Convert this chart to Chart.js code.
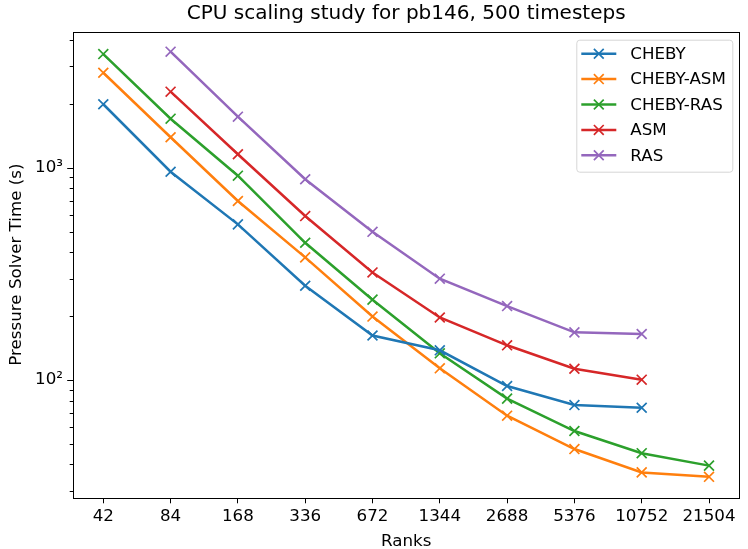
<!DOCTYPE html>
<html>
<head>
<meta charset="utf-8">
<script src="https://cdn.jsdelivr.net/npm/chart.js@4.4.1/dist/chart.umd.min.js"></script>
<style>
    body { margin: 0; background: #fff; }
    #wrap { width: 748px; height: 549px; }
</style>
</head>
<body>
<div id="wrap"><canvas id="scaling-chart" width="748" height="549"></canvas></div>
<script>
// ranks on the x axis (evenly spaced, doubling)
const rankLabels = ["42", "84", "168", "336", "672", "1344", "2688", "5376", "10752", "21504"];

const seriesNames = ["CHEBY", "CHEBY-ASM", "CHEBY-RAS", "ASM", "RAS"];
const seriesColors = ["#1f77b4", "#ff7f0e", "#2ca02c", "#d62728", "#9467bd"];

// pressure solver time (s), null where a run is missing
const chebyTimes    = [1990, 957, 541, 278, 162, 138, 93.7, 76.2, 74.0, null];
const chebyAsmTimes = [2800, 1391, 697, 378, 199, 113.5, 67.9, 47.3, 36.7, 35.0];
const chebyRasTimes = [3430, 1701, 917, 443, 239, 133.6, 81.7, 57.5, 45.2, 39.5];
const asmTimes      = [null, 2280, 1157, 592, 321, 197, 145.7, 113, 100.3, null];
const rasTimes      = [null, 3519, 1739, 882, 499, 300, 223, 167.7, 164.7, null];

const allSeries = [chebyTimes, chebyAsmTimes, chebyRasTimes, asmTimes, rasTimes];

const yMin = 27.96;
const yMax = 4371;
const yLabelled = { 100: "10\u00b2", 1000: "10\u00b3" };

const fontFamily = "'DejaVu Sans', sans-serif";
const labelSize = 16.7;

function toPoints(values) {
    const pts = [];
    values.forEach((v, i) => {
        if (v !== null) {
            pts.push({ x: i, y: v });
        }
    });
    return pts;
}

const datasets = allSeries.map((values, i) => ({
    label: seriesNames[i],
    data: toPoints(values),
    borderColor: seriesColors[i],
    backgroundColor: seriesColors[i],
    borderWidth: 2.5,
    pointStyle: 'crossRot',
    pointRadius: 7,
    pointHoverRadius: 7,
    pointBorderWidth: 1.7,
    tension: 0
}));

// y minor/major ticks, frame and the legend box
const decorPlugin = {
    id: 'decor',
    afterLayout(chart) {
        // center the title over the plot area, not the whole canvas
        if (chart.titleBlock) {
            chart.titleBlock.left = chart.chartArea.left;
            chart.titleBlock.right = chart.chartArea.right;
        }
    },
    afterDraw(chart) {
        const ctx = chart.ctx;
        const area = chart.chartArea;
        const yScale = chart.scales.y;

        ctx.save();
        ctx.strokeStyle = '#000';
        ctx.lineWidth = 1;
        yScale.ticks.forEach(t => {
            const y = Math.round(yScale.getPixelForValue(t.value)) + 0.5;
            const len = yLabelled[t.value] ? 5.8 : 3.3;
            ctx.beginPath();
            ctx.moveTo(area.left - len, y);
            ctx.lineTo(area.left, y);
            ctx.stroke();
        });
        ctx.strokeRect(Math.round(area.left) + 0.5, Math.round(area.top) + 0.5,
            Math.round(area.right - area.left), Math.round(area.bottom - area.top));

        // legend
        const boxRight = area.right - 7;
        const boxLeft = boxRight - 156;
        const boxTop = area.top + 8;
        const rowH = 25.4;
        const boxH = 132;
        ctx.fillStyle = 'rgba(255,255,255,0.8)';
        ctx.strokeStyle = '#d6d6d6';
        ctx.beginPath();
        ctx.roundRect(boxLeft + 0.5, boxTop + 0.5, boxRight - boxLeft, boxH, 3);
        ctx.fill();
        ctx.stroke();

        ctx.font = labelSize + "px " + fontFamily;
        ctx.textBaseline = 'middle';
        seriesNames.forEach((name, i) => {
            const y = boxTop + 14 + i * rowH;
            const x0 = boxLeft + 5;
            ctx.strokeStyle = seriesColors[i];
            ctx.lineWidth = 2.5;
            ctx.beginPath();
            ctx.moveTo(x0, y);
            ctx.lineTo(x0 + 35, y);
            ctx.stroke();
            ctx.lineWidth = 1.7;
            const m = 4.9;
            const cx = x0 + 17.5;
            ctx.beginPath();
            ctx.moveTo(cx - m, y - m);
            ctx.lineTo(cx + m, y + m);
            ctx.moveTo(cx - m, y + m);
            ctx.lineTo(cx + m, y - m);
            ctx.stroke();
            ctx.fillStyle = '#000';
            ctx.fillText(name, boxLeft + 54, y + 1);
        });
        ctx.restore();
    }
};

const ctx = document.getElementById("scaling-chart").getContext("2d");

new Chart(ctx, {
    type: 'line',
    data: { datasets: datasets },
    plugins: [decorPlugin],
    options: {
        responsive: false,
        animation: false,
        layout: { padding: { left: 0, right: 3, top: 0, bottom: 0 } },
        plugins: {
            legend: { display: false },
            tooltip: { enabled: false },
            title: {
                display: true,
                text: 'CPU scaling study for pb146, 500 timesteps',
                color: '#000',
                font: { size: 20, family: fontFamily, weight: 'normal' },
                padding: { top: 2, bottom: 5.7 }
            }
        },
        scales: {
            x: {
                type: 'linear',
                min: -0.45,
                max: rankLabels.length - 1 + 0.45,
                afterBuildTicks: scale => {
                    scale.ticks = rankLabels.map((_, i) => ({ value: i }));
                },
                afterFit: scale => { scale.height = 51.5; },
                ticks: {
                    color: '#000',
                    font: { size: labelSize, family: fontFamily },
                    padding: 3.7,
                    maxRotation: 0,
                    autoSkip: false,
                    callback: value => rankLabels[value]
                },
                grid: {
                    drawOnChartArea: false,
                    drawTicks: true,
                    tickLength: 5.8,
                    tickColor: '#000'
                },
                border: { display: false },
                title: {
                    display: true,
                    text: 'Ranks',
                    color: '#000',
                    font: { size: labelSize, family: fontFamily, lineHeight: 1 },
                    padding: { top: 0, bottom: -1 }
                }
            },
            y: {
                type: 'logarithmic',
                min: yMin,
                max: yMax,
                afterBuildTicks: scale => {
                    const ticks = [];
                    for (let dec = 10; dec <= 1000; dec *= 10) {
                        for (let m = 1; m <= 9; m++) {
                            const v = m * dec;
                            if (v >= yMin && v <= yMax) {
                                ticks.push({ value: v });
                            }
                        }
                    }
                    scale.ticks = ticks;
                },
                afterFit: scale => { scale.width = 73; },
                ticks: {
                    color: '#000',
                    font: { size: labelSize, family: fontFamily },
                    padding: 10,
                    autoSkip: false,
                    callback: value => yLabelled[value] || ''
                },
                grid: {
                    drawOnChartArea: false,
                    drawTicks: false
                },
                border: { display: false },
                title: {
                    display: true,
                    text: 'Pressure Solver Time (s)',
                    color: '#000',
                    font: { size: labelSize, family: fontFamily },
                    padding: { top: 7, bottom: 4 }
                }
            }
        }
    }
});
</script>
</body>
</html>
